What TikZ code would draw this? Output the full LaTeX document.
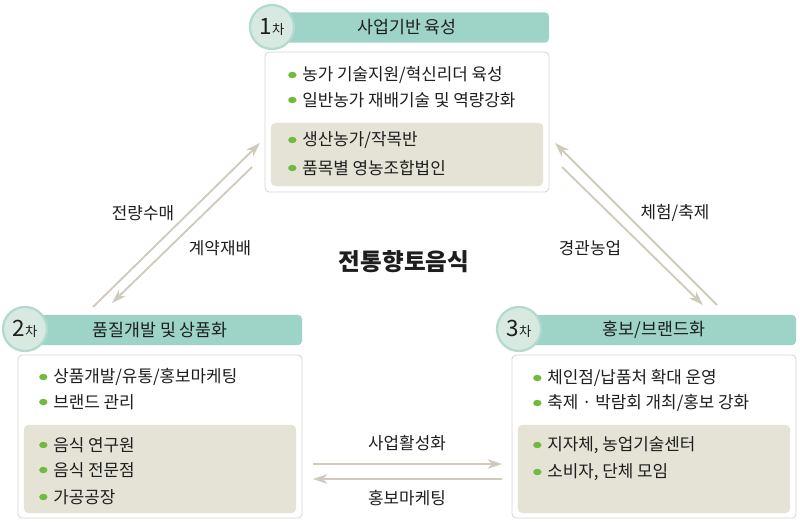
\documentclass[tikz,border=0pt]{standalone}
\usepackage{fontspec}
\setmainfont{Noto Sans CJK KR}
\usepackage{tikz}
\usetikzlibrary{arrows.meta, positioning, shapes.geometric}
\usepackage{xcolor}
\definecolor{headteal}{RGB}{158,211,199}
\definecolor{circfill}{RGB}{216,233,226}
\definecolor{circring}{RGB}{178,218,207}
\definecolor{innergray}{RGB}{229,227,214}
\definecolor{boxline}{RGB}{214,214,210}
\definecolor{arrowtan}{RGB}{207,202,187}
\definecolor{bulgreen}{RGB}{112,186,62}
\definecolor{txt}{RGB}{30,30,30}

\tikzset{
  card/.style={draw=boxline, fill=white, rounded corners=3pt, line width=0.6pt, minimum width=71mm},
  inner/.style={fill=innergray, rounded corners=3pt, minimum width=68mm, minimum height=22mm},
  headbar/.style={fill=headteal, rounded corners=3pt, minimum width=71mm, minimum height=7.6mm, font=\fontsize{12.3}{14}\selectfont, text=txt},
  stagecirc/.style={circle, fill=circfill, draw=circring, line width=1.6pt, minimum size=11mm, inner sep=0pt, text=txt},
  bul/.style={ellipse, fill=bulgreen, minimum width=2.1mm, minimum height=1.6mm, inner sep=0pt},
  item/.style={anchor=west, inner sep=0pt, text=txt, font=\fontsize{12}{14}\selectfont, label={[bul, label distance=1.3mm]left:{}}},
  flow/.style={draw=arrowtan, line width=1.3pt, -{Stealth[length=3.6mm, width=2.4mm, inset=1.1mm]}},
  flowlbl/.style={text=txt, font=\fontsize{12}{14}\selectfont}
}
\newcommand{\stagenum}[1]{{\fontsize{16}{16}\selectfont #1}{\fontsize{9.5}{9.5}\selectfont 차}}

\begin{document}
\begin{tikzpicture}[x=0.025cm, y=-0.025cm]
  \useasboundingbox (0,0) rectangle (800,525);

  % 1차
  \node[card, minimum height=35mm] (top) at (407,122) {};
  \node[inner, minimum height=15.75mm] (topin) at (407,154.5) {};
  \node[headbar] (tophd) at (407,27.5) {사업기반 육성};
  \node[stagecirc] (topc) at (272,27) {\stagenum{1}};
  \node[item] (t1) at (302,75) {농가 기술지원/혁신리더 육성};
  \node[item] (t2) at (302,100) {일반농가 재배기술 및 역량강화};
  \node[item] (t3) at (302,140) {생산농가/작목반};
  \node[item] (t4) at (302,168) {품목별 영농조합법인};

  % 2차
  \node[card, minimum height=40.75mm] (left) at (160,436.5) {};
  \node[inner] (leftin) at (160,469) {};
  \node[headbar] (lefthd) at (160,330) {품질개발 및 상품화};
  \node[stagecirc] (leftc) at (25,329) {\stagenum{2}};
  \node[item] (l1) at (53,377) {상품개발/유통/홍보마케팅};
  \node[item] (l2) at (53,402) {브랜드 관리};
  \node[item] (l3) at (53,445) {음식 연구원};
  \node[item] (l4) at (53,470) {음식 전문점};
  \node[item] (l5) at (53,497) {가공공장};

  % 3차
  \node[card, minimum height=40.75mm] (right) at (654,436.5) {};
  \node[inner] (rightin) at (654,469) {};
  \node[headbar] (righthd) at (654,330) {홍보/브랜드화};
  \node[stagecirc] (rightc) at (519,329) {\stagenum{3}};
  \node[item] (r1) at (547,378) {체인점/납품처 확대 운영};
  \node[item] (r2) at (547,403) {축제 · 박람회 개최/홍보 강화};
  \node[item] (r3) at (547,445) {지자체, 농업기술센터};
  \node[item] (r4) at (547,472) {소비자, 단체 모임};

  % center
  \node[text=txt, font=\fontsize{16.8}{19}\selectfont\bfseries] (title) at (404,262) {전통향토음식};

  % arrow ends
  \coordinate (a1s) at (93,307);  \coordinate (a1e) at (260,143);
  \coordinate (a2s) at (252,167); \coordinate (a2e) at (112,303);
  \coordinate (b1s) at (717,305); \coordinate (b1e) at (555,143);
  \coordinate (b2s) at (562,167); \coordinate (b2e) at (703,305);
  \coordinate (c1s) at (313,464); \coordinate (c1e) at (502,464);
  \coordinate (c2s) at (502,479); \coordinate (c2e) at (313,479);

  \draw[flow] (a1s) -- (a1e);
  \draw[flow] (a2s) -- (a2e);
  \draw[flow] (b1s) -- (b1e);
  \draw[flow] (b2s) -- (b2e);
  \draw[flow] (c1s) -- (c1e);
  \draw[flow] (c2s) -- (c2e);

  \node[flowlbl] (lbla1) at (143,213) {전량수매};
  \node[flowlbl] (lbla2) at (220,248) {계약재배};
  \node[flowlbl] (lblb1) at (675,213) {체험/축제};
  \node[flowlbl] (lblb2) at (590,248) {경관농업};
  \node[flowlbl] (lblc1) at (407,443) {사업활성화};
  \node[flowlbl] (lblc2) at (407,498) {홍보마케팅};
\end{tikzpicture}
\end{document}
